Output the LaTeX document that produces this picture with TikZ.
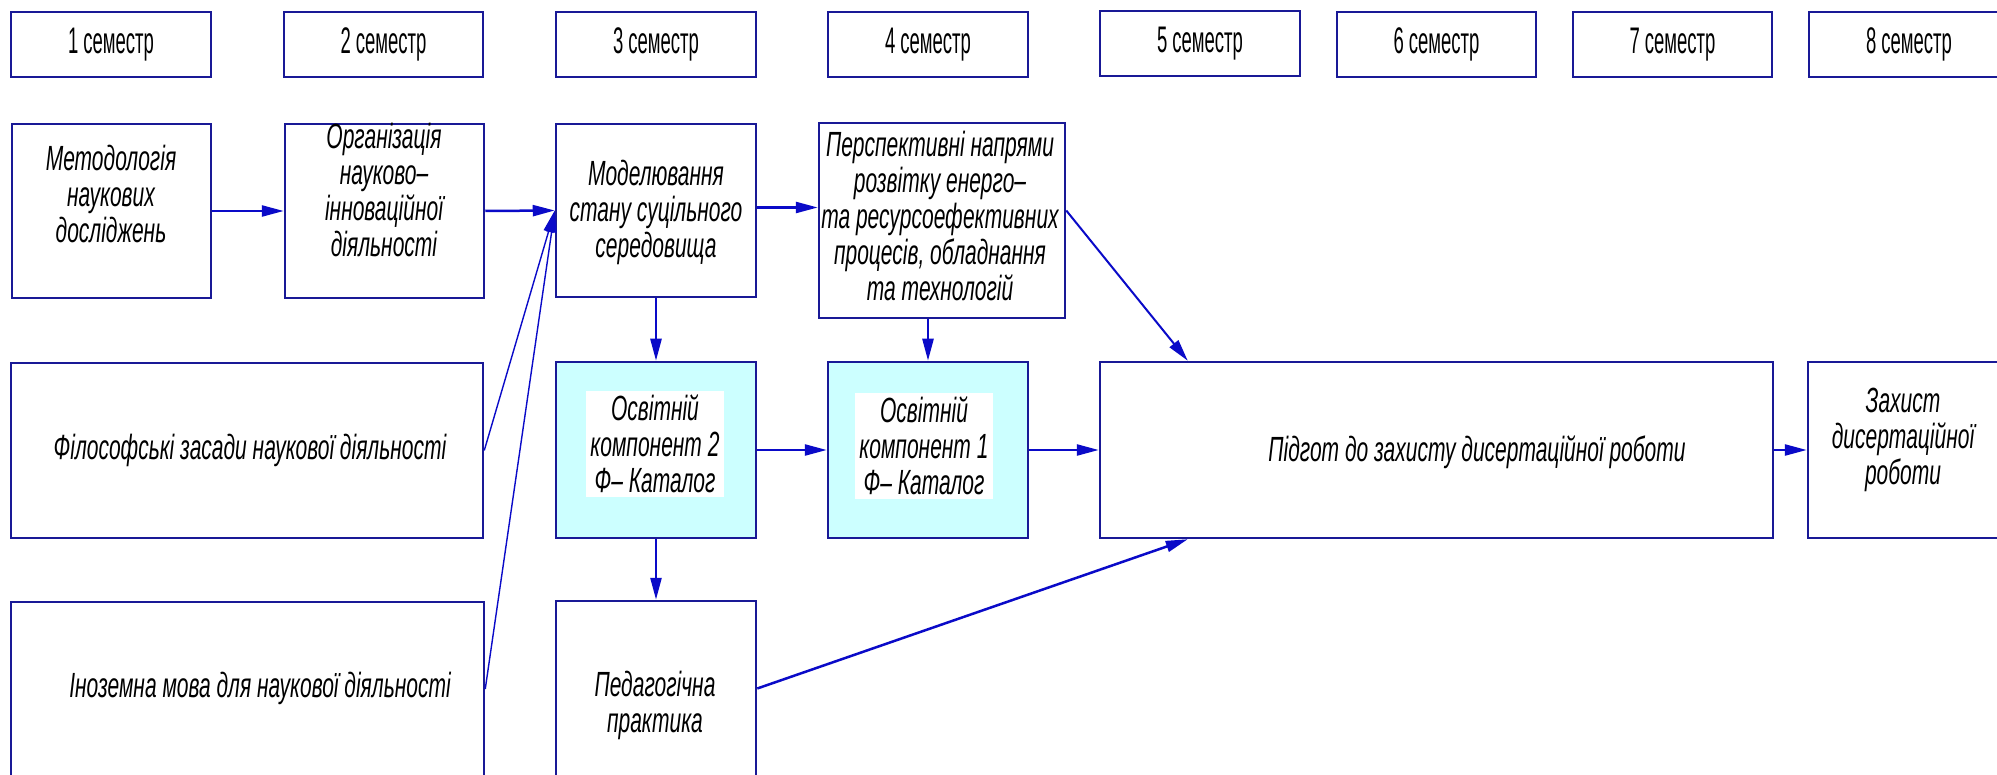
\documentclass[tikz,border=0pt]{standalone}
\usepackage{fontspec}
\newfontfamily\gost[FakeStretch=0.6]{Liberation Sans}
\newfontfamily\gostup[FakeStretch=0.5]{Liberation Sans}
\usetikzlibrary{arrows.meta}
\definecolor{boxblue}{RGB}{25,25,150}
\definecolor{arrblue}{RGB}{10,10,200}
\definecolor{cyanfill}{RGB}{204,255,255}
\begin{document}
\begin{tikzpicture}[x=1pt,y=-1pt,
  box/.style={draw=boxblue, line width=2.5pt, inner sep=0pt, fill=white},
  cbox/.style={box, fill=cyanfill},
  semtxt/.style={inner sep=0pt, font=\gostup\fontsize{37}{40}\selectfont},
  txt/.style={inner sep=0pt, align=center, font=\gost\itshape\fontsize{35}{36}\selectfont},
  wtxt/.style={txt, fill=white, inner sep=4pt},
  conn/.style={draw=arrblue, line width=2.5pt, -{Triangle[length=22pt,width=11pt]}},
  thin/.style={draw=arrblue, line width=1.4pt, -{Triangle[length=22pt,width=10pt]}}
]
\path[use as bounding box] (0,0) rectangle (1997,775);
\fill[white] (0,0) rectangle (1997,775);
\begin{scope}
\clip (0,0) rectangle (1997,775);
% semester boxes
\node[box, minimum width=200, minimum height=65] (s1) at (111,44.5) {};
\node[box, minimum width=199, minimum height=65] (s2) at (383.5,44.5) {};
\node[box, minimum width=200, minimum height=65] (s3) at (656,44.5) {};
\node[box, minimum width=200, minimum height=65] (s4) at (928,44.5) {};
\node[box, minimum width=200, minimum height=65] (s5) at (1200,43.5) {};
\node[box, minimum width=199, minimum height=65] (s6) at (1436.5,44.5) {};
\node[box, minimum width=199, minimum height=65] (s7) at (1672.5,44.5) {};
\node[box, minimum width=200, minimum height=65] (s8) at (1909,44.5) {};
\node[semtxt] (ts1) at (s1) {1 семестр};
\node[semtxt] (ts2) at (s2) {2 семестр};
\node[semtxt] (ts3) at (s3) {3 семестр};
\node[semtxt] (ts4) at (s4) {4 семестр};
\node[semtxt] (ts5) at (s5) {5 семестр};
\node[semtxt] (ts6) at (s6) {6 семестр};
\node[semtxt] (ts7) at (s7) {7 семестр};
\node[semtxt] (ts8) at (s8) {8 семестр};
% row 2
\node[box, minimum width=199, minimum height=174] (met) at (111.5,211) {};
\node[box, minimum width=199, minimum height=174] (org) at (384.5,211) {};
\node[box, minimum width=200, minimum height=173] (mod) at (656,210.5) {};
\node[box, minimum width=246, minimum height=195] (per) at (942,220.5) {};
% row 3
\node[box, minimum width=472, minimum height=175] (fil) at (247,450.5) {};
\node[cbox, minimum width=200, minimum height=176] (os2) at (656,450) {};
\node[cbox, minimum width=200, minimum height=176] (os1) at (928,450) {};
\node[box, minimum width=673, minimum height=176] (pid) at (1436.5,450) {};
\node[box, minimum width=202, minimum height=176] (zah) at (1909,450) {};
% row 4
\node[box, minimum width=473, minimum height=174] (ino) at (247.5,689) {};
\node[box, minimum width=200, minimum height=175] (ped) at (656,688.5) {};
% texts
\node[txt] (tmet) at (111,194) {Методологія\\наукових\\досліджень};
\node[txt] (torg) at (384,190) {Організація\\науково–\\інноваційної\\діяльності};
\node[txt] (tmod) at (656,212) {Моделювання\\стану суцільного\\середовища};
\node[txt] (tper) at (940,216) {Перспективні напрями\\розвітку енерго–\\та ресурсоефективних\\процесів, обладнання\\та технологій};
\node[txt] (tfil) at (250,450) {Філософські засади наукової діяльності};
\node[wtxt] (tos2) at (655,444) {Освітній\\компонент 2\\Ф– Каталог};
\node[wtxt] (tos1) at (924,446) {Освітній\\компонент 1\\Ф– Каталог};
\node[txt] (tpid) at (1477,452) {Підгот до захисту дисертаційної роботи};
\node[txt] (tzah) at (1903,440) {Захист\\дисертаційної\\роботи};
\node[txt] (tino) at (260,688) {Іноземна мова для наукової діяльності};
\node[txt] (tped) at (655,705) {Педагогічна\\практика};
% connectors
\draw[conn] (met.east) -- (org.west);
\draw[conn] (org.east) -- (mod.west);
\draw[thin] (fil.east) -- (mod.west);
\draw[thin] (ino.east) -- (mod.west);
\draw[conn] ([yshift=3pt]mod.east) -- ([yshift=3pt]mod.east -| per.west);
\draw[conn, line width=2pt] ([yshift=10pt]per.east) -- ([xshift=89pt]pid.north west);
\draw[conn] (mod.south) -- (os2.north);
\draw[conn] (os1.north |- per.south) -- (os1.north);
\draw[conn] (os2.east) -- (os1.west);
\draw[conn] (os1.east) -- (pid.west);
\draw[conn] (pid.east) -- (zah.west);
\draw[conn] (os2.south) -- (ped.north);
\draw[conn] (ped.east) -- ([xshift=89pt]pid.south west);
\end{scope}
\end{tikzpicture}
\end{document}
